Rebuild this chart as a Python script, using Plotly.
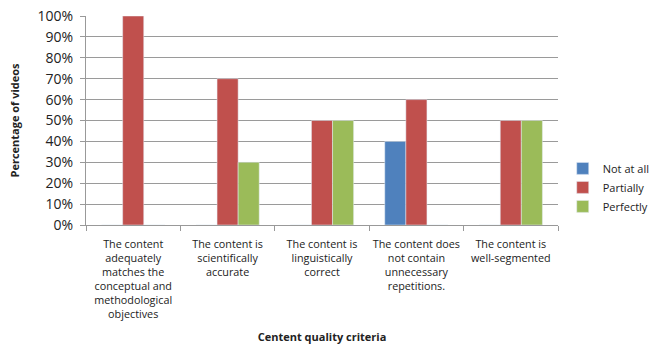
import plotly.graph_objects as go

categories = [
    "The content<br>adequately<br>matches the<br>conceptual and<br>methodological<br>objectives",
    "The content is<br>scientifically<br>accurate",
    "The content is<br>linguistically<br>correct",
    "The content does<br>not contain<br>unnecessary<br>repetitions.",
    "The content is<br>well-segmented",
]
not_at_all = [0, 0, 0, 0.40, 0]
partially = [1.00, 0.70, 0.50, 0.60, 0.50]
perfectly = [0, 0.30, 0.50, 0, 0.50]
tick_vals = [i / 10 for i in range(11)]
tick_text = [f"{i*10}%" for i in range(11)]

font = "Open Sans"
fig = go.Figure()
fig.add_bar(name="Not at all", x=categories, y=not_at_all, marker_color="#4F81BD")
fig.add_bar(name="Partially", x=categories, y=partially, marker_color="#C0504D")
fig.add_bar(name="Perfectly", x=categories, y=perfectly, marker_color="#9BBB59")

fig.update_layout(
    width=649, height=344,
    margin=dict(l=86, r=91, t=16, b=119, autoexpand=False),
    paper_bgcolor="white", plot_bgcolor="white",
    barmode="group", bargap=0.33, bargroupgap=0,
    font=dict(family=font, color="#222222"),
    showlegend=True,
    legend=dict(x=1.01, xanchor="left", y=0.18, yanchor="middle",
                font=dict(size=11, family=font), tracegroupgap=0,
                itemwidth=30),
)
fig.update_xaxes(
    automargin=False,
    showline=True, linecolor="#999999", linewidth=1,
    ticks="outside", ticklen=5, tickcolor="#999999",
    tickson="boundaries", tickangle=0, ticklabelstandoff=9,
    tickfont=dict(size=10.8, family=font),
    title=dict(text="<b>Centent quality criteria</b>", font=dict(size=11, family=font)),
    showgrid=False,
)
fig.update_yaxes(
    automargin=False,
    range=[0, 1.0], tickvals=tick_vals, ticktext=tick_text,
    showline=True, linecolor="#999999", linewidth=1,
    ticks="outside", ticklen=5, tickcolor="#999999",
    ticklabelstandoff=4,
    showgrid=True, gridcolor="#9a9a9a", gridwidth=1,
    tickfont=dict(size=14, family=font),
    title=dict(text="<b>Percentage of videos</b>", font=dict(size=11, family=font)),
    zeroline=False,
)
fig.write_html("out.html")
